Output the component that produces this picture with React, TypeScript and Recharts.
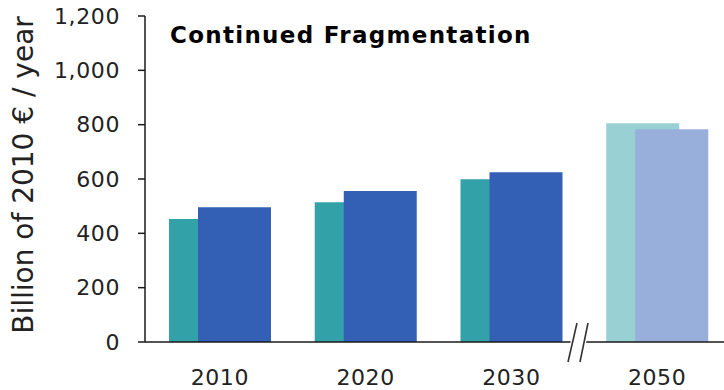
import { Bar, BarChart, Cell, XAxis, YAxis } from "recharts";

const years = ["2010", "2020", "2030", "2050"];
const tealValues = [453, 514, 599, 805];
const blueValues = [496, 556, 625, 783];
// last column sits past the axis break and is drawn in a paler tone
const pastBreak = [false, false, false, true];
const yTicks = [0, 200, 400, 600, 800, 1000, 1200];

const TEAL = "#33a1a8";
const TEAL_LIGHT = "#99d0d3";
const BLUE = "#3360b4";
const BLUE_LIGHT = "#98afdb";
const AXIS = "#1a1a1a";
const FONT = "'DejaVu Sans', Verdana, sans-serif";

const rows = years.map((year, i) => ({
  year,
  teal: tealValues[i],
  blue: blueValues[i],
  pastBreak: pastBreak[i],
}));

function YLabel() {
  return (
    <text
      x={33}
      y={175}
      transform="rotate(-90, 33, 175)"
      textAnchor="middle"
      fontFamily={FONT}
      fontSize={28}
      fill="#222"
    >
      Billion of 2010 € / year
    </text>
  );
}

export default function App() {
  return (
    <div
      style={{
        position: "absolute",
        left: 0,
        top: 0,
        width: 724,
        height: 390,
        overflow: "hidden",
        background: "#fff",
      }}
    >
      <BarChart
        width={730}
        height={390}
        data={rows}
        margin={{ top: 16, right: 0, bottom: 0, left: 0 }}
        barSize={73}
        barGap={-44}
      >
        <YAxis
          width={145}
          domain={[0, 1200]}
          ticks={yTicks}
          interval={0}
          axisLine={{ stroke: AXIS, strokeWidth: 1.5 }}
          tickLine={{ stroke: AXIS, strokeWidth: 1.5 }}
          tickSize={7}
          tickMargin={18}
          tick={{ fill: "#222", fontSize: 22, fontFamily: FONT, letterSpacing: 0.6 }}
          tickFormatter={(v: number) => v.toLocaleString("en-US")}
          label={<YLabel />}
        />
        <XAxis
          dataKey="year"
          height={48}
          padding={{ left: 2, right: 0 }}
          axisLine={{ stroke: AXIS, strokeWidth: 1.5 }}
          tickLine={false}
          tickSize={0}
          tickMargin={27}
          tick={{ fill: "#222", fontSize: 22, fontFamily: FONT, letterSpacing: 0.6 }}
        />
        <Bar dataKey="teal" isAnimationActive={false}>
          {rows.map((r) => (
            <Cell key={r.year} fill={r.pastBreak ? TEAL_LIGHT : TEAL} />
          ))}
        </Bar>
        <Bar dataKey="blue" isAnimationActive={false}>
          {rows.map((r) => (
            <Cell key={r.year} fill={r.pastBreak ? BLUE_LIGHT : BLUE} />
          ))}
        </Bar>
        <text
          x={170}
          y={43}
          fontFamily={FONT}
          fontWeight="bold"
          fontSize={23}
          letterSpacing={1.3}
          fill="#000"
        >
          Continued Fragmentation
        </text>
      </BarChart>
      {/* axis break marker between 2030 and 2050 */}
      <svg
        width={724}
        height={390}
        style={{ position: "absolute", left: 0, top: 0, pointerEvents: "none" }}
      >
        <polygon points="575,336 588,336 584,348 571,348" fill="#fff" />
        <line x1={577} y1={323} x2={568} y2={362} stroke="#fff" strokeWidth={4} />
        <line x1={588} y1={323} x2={580} y2={362} stroke="#fff" strokeWidth={4} />
        <line x1={577} y1={323} x2={568} y2={362} stroke="#333" strokeWidth={1.6} />
        <line x1={588} y1={323} x2={580} y2={362} stroke="#333" strokeWidth={1.6} />
      </svg>
    </div>
  );
}
